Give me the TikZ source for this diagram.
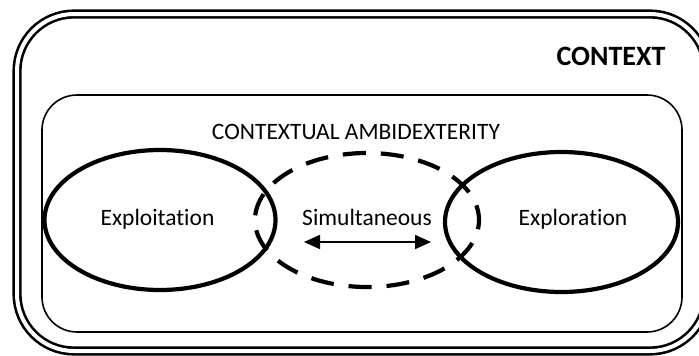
\documentclass[tikz,border=0pt]{standalone}
\usepackage{fontspec}
\setmainfont[Ligatures=NoCommon]{Carlito}
\usetikzlibrary{shapes.geometric,arrows.meta}
\begin{document}
\begin{tikzpicture}[x=1pt,y=-1pt,
  txt/.style={anchor=base,inner sep=0pt,font=\fontsize{23.5}{28}\selectfont},
  bigtxt/.style={anchor=base,inner sep=0pt,font=\bfseries\fontsize{28}{32}\selectfont},
  field/.style={ellipse,draw,line width=4.2pt,inner sep=0pt},
  bridge/.style={ellipse,draw,line width=4.2pt,inner sep=0pt,dash pattern=on 23pt off 15pt,dash phase=8pt}]
\useasboundingbox (0,0) rectangle (699,356);
\clip (0,0) rectangle (699,356);
% outer frame: double rounded border
\draw[line width=2.6pt,double,double distance=4pt,rounded corners=57pt]
  (17,14) rectangle (707,351);
% inner frame
\draw[line width=1.6pt,rounded corners=35pt] (42,95) rectangle (682,332);
% titles
\node[bigtxt] (ctx) at (611,65) {CONTEXT};
\node[txt] (amb) at (356,139) {CONTEXTUAL AMBIDEXTERITY};
% the three regions
\node[field,minimum width=231pt,minimum height=140pt] (expt) at (160,220) {};
\node[field,minimum width=233pt,minimum height=140pt] (expr) at (561.5,222) {};
\node[bridge,minimum width=224pt,minimum height=134pt] (sim) at (367,220) {};
\node[txt] (lexpt) at (157.5,225) {Exploitation};
\node[txt] (lexpr) at (573,225) {Exploration};
\node[txt] (lsim) at (367,225) {Simultaneous};
% two-way arrow between the regions
\coordinate (al) at (304,242);
\coordinate (ar) at (431,242);
\draw[line width=1.8pt,{Stealth[length=16pt,width=14pt,inset=0pt]}-{Stealth[length=16pt,width=14pt,inset=0pt]}] (al) -- (ar);
\end{tikzpicture}
\end{document}
